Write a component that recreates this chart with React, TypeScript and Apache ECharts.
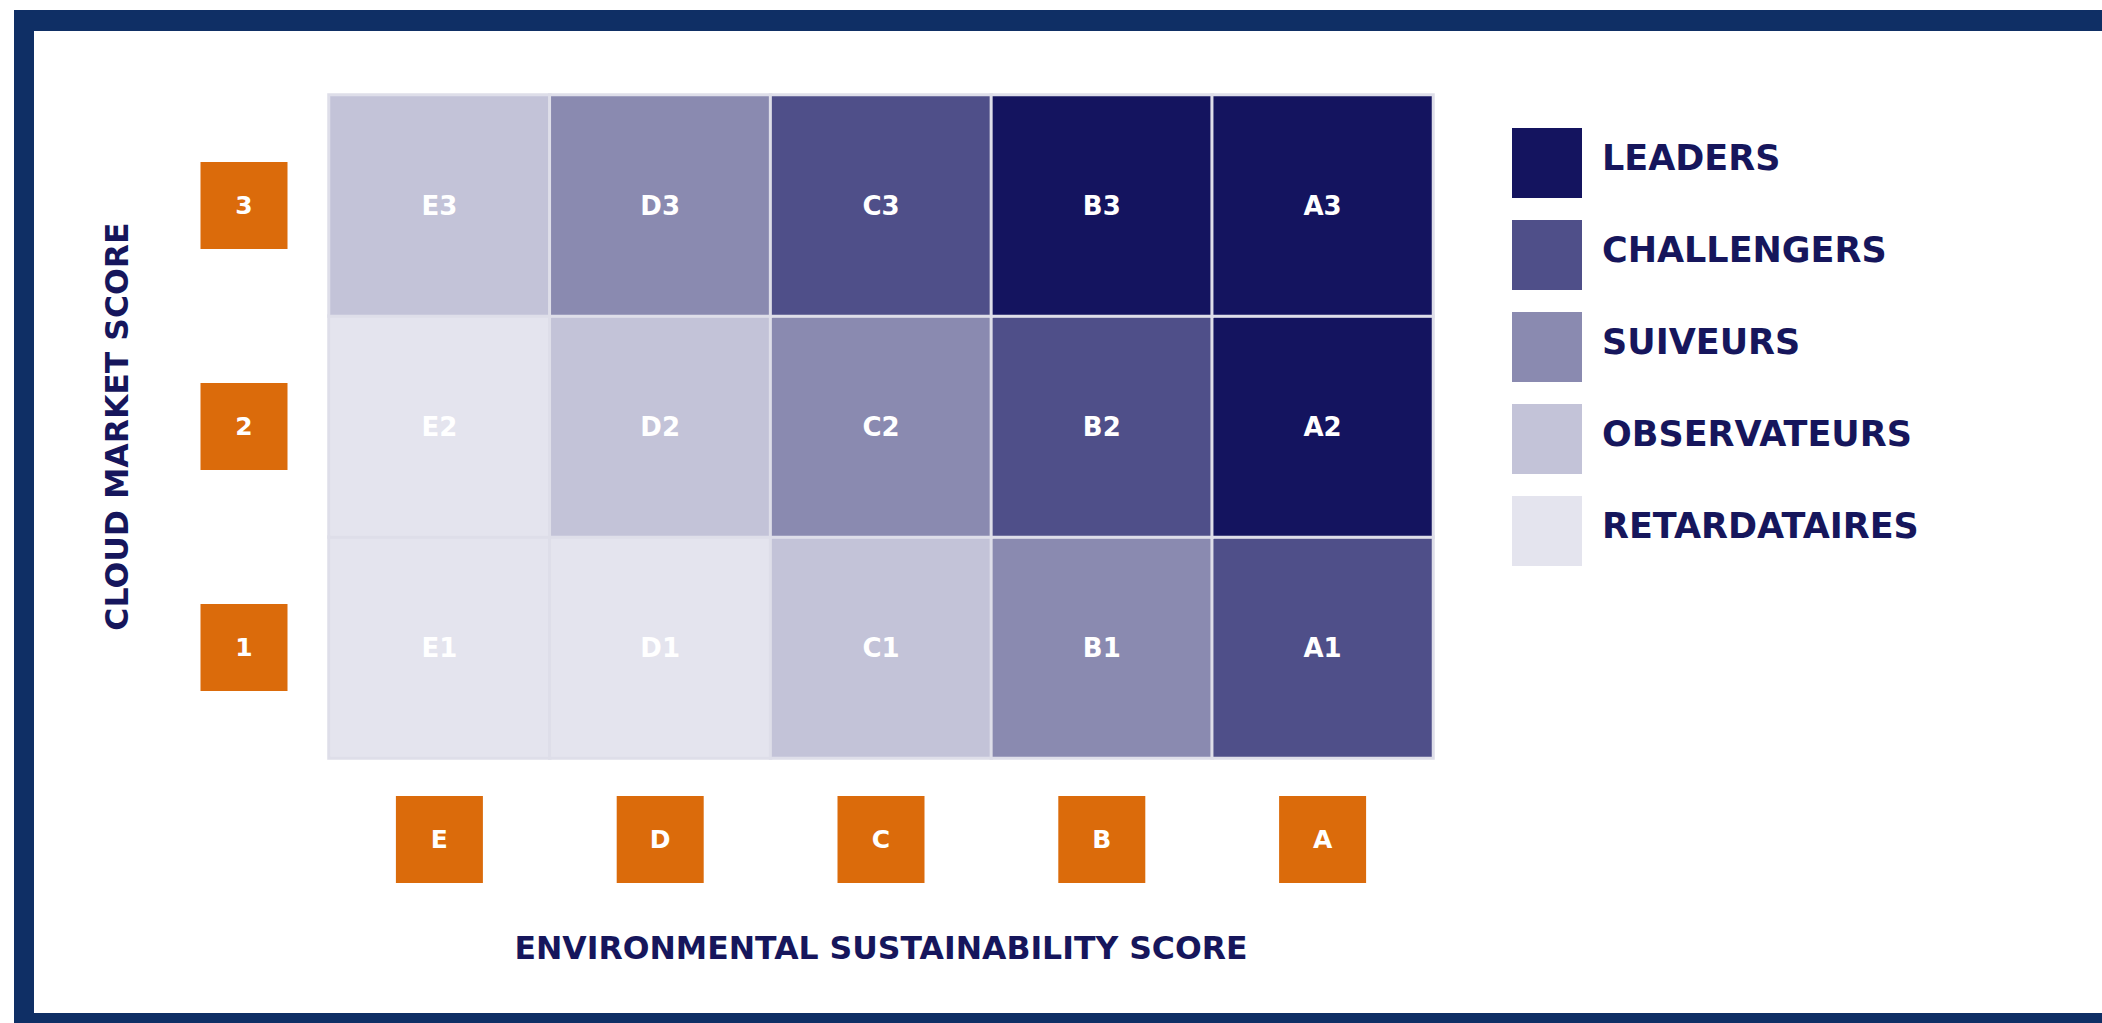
import React, { useEffect, useRef } from 'react';
import * as echarts from 'echarts';

const xCategories = ['E', 'D', 'C', 'B', 'A'];
const yCategories = ['1', '2', '3'];
const row1Levels = [1, 1, 2, 3, 4];
const row2Levels = [1, 2, 3, 4, 5];
const row3Levels = [2, 3, 4, 5, 5];
const tierValues = [1, 2, 3, 4, 5];
const tierLabels = ['RETARDATAIRES', 'OBSERVATEURS', 'SUIVEURS', 'CHALLENGERS', 'LEADERS'];
const tierColors = ['#e4e4ee', '#c3c3d8', '#8a8ab0', '#4f4f89', '#14145f'];
const xTitle = 'ENVIRONMENTAL SUSTAINABILITY SCORE';
const yTitle = 'CLOUD MARKET SCORE';

const FONT = 'DejaVu Sans';
const NAVY_TEXT = '#16165c';
const ORANGE = '#db6b0b';
const FRAME = '#0f2f65';

export default function App() {
  const ref = useRef<HTMLDivElement>(null);

  useEffect(() => {
    document.body.style.margin = '0';
    if (!ref.current) return;
    const chart = echarts.init(ref.current, null, { renderer: 'svg' });

    const rows = [row1Levels, row2Levels, row3Levels];
    const data: number[][] = [];
    rows.forEach((row, yi) => {
      row.forEach((lvl, xi) => data.push([xi, yi, lvl]));
    });

    const boxLabel = {
      backgroundColor: ORANGE,
      width: 87,
      height: 87,
      lineHeight: 87,
      align: 'center',
      color: '#ffffff',
      fontSize: 25,
      fontWeight: 'bold',
      fontFamily: FONT,
    };

    chart.setOption({
      animation: false,
      backgroundColor: '#ffffff',
      graphic: [
        { type: 'rect', z: -10, shape: { x: 14, y: 10, width: 2200, height: 1100 }, style: { fill: FRAME } },
        { type: 'rect', z: -9, shape: { x: 34, y: 31, width: 2200, height: 982 }, style: { fill: '#ffffff' } },
      ],
      grid: { left: 329, top: 95, width: 1104, height: 663 },
      xAxis: {
        type: 'category',
        data: xCategories,
        axisLine: { show: false },
        axisTick: { show: false },
        splitLine: { show: false },
        axisLabel: { ...boxLabel, margin: 38, verticalAlign: 'top' },
        name: xTitle,
        nameLocation: 'middle',
        nameGap: 174,
        nameTextStyle: { color: NAVY_TEXT, fontSize: 31.5, fontWeight: 'bold', fontFamily: FONT },
      },
      yAxis: {
        type: 'category',
        data: yCategories,
        axisLine: { show: false },
        axisTick: { show: false },
        splitLine: { show: false },
        axisLabel: { ...boxLabel, margin: 85, verticalAlign: 'middle' },
        name: yTitle,
        nameLocation: 'middle',
        nameGap: 196,
        nameTextStyle: { color: NAVY_TEXT, fontSize: 31.5, fontWeight: 'bold', fontFamily: FONT },
      },
      visualMap: {
        type: 'piecewise',
        dimension: 2,
        seriesIndex: 0,
        orient: 'vertical',
        align: 'left',
        left: 1512,
        top: 128,
        padding: 0,
        itemWidth: 70,
        itemHeight: 70,
        itemGap: 22,
        textGap: 20,
        itemSymbol: 'rect',
        selectedMode: false,
        pieces: tierValues.map((v, i) => ({ value: v, label: `{t|${tierLabels[i]}}`, color: tierColors[i] })),
        textStyle: {
          color: NAVY_TEXT,
          fontSize: 35,
          fontWeight: 'bold',
          fontFamily: FONT,
          rich: {
            t: {
              color: NAVY_TEXT,
              fontSize: 35,
              fontWeight: 'bold',
              fontFamily: FONT,
              padding: [0, 0, 10, 0],
            },
          },
        },
      },
      series: [
        {
          type: 'heatmap',
          data,
          itemStyle: { borderColor: '#dedee9', borderWidth: 3 },
          emphasis: { disabled: true },
          label: {
            show: true,
            color: '#ffffff',
            fontSize: 26,
            fontWeight: 'bold',
            fontFamily: FONT,
            formatter: (p: any) => `${xCategories[p.value[0]]}${yCategories[p.value[1]]}`,
          },
        },
      ],
    });

    return () => chart.dispose();
  }, []);

  return <div ref={ref} style={{ width: 2102, height: 1023 }} />;
}
